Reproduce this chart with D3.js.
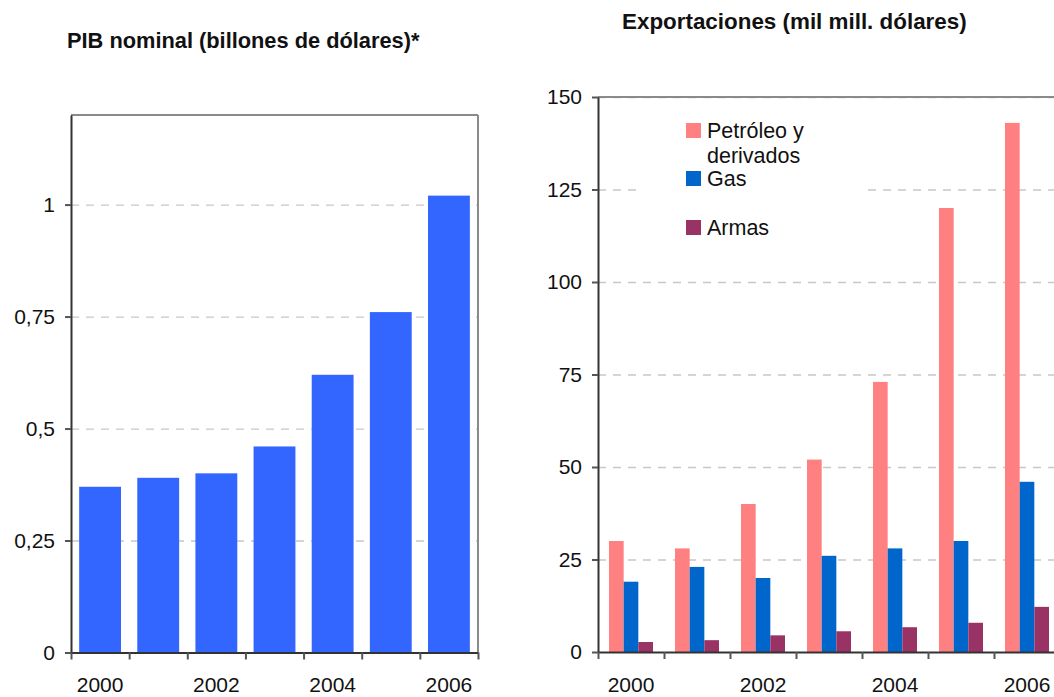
<!DOCTYPE html>
<html>
<head>
<meta charset="utf-8">
<script src="https://cdn.jsdelivr.net/npm/d3@7"></script>
<style>
  html, body { margin: 0; padding: 0; background: #fff; }
  svg { display: block; font-family: "Liberation Sans", Arial, sans-serif; }
</style>
</head>
<body>
<svg id="chart" width="1054" height="697"></svg>
<script>
// years on the x axis (labels shown for every other year)
var years = ["2000", "2001", "2002", "2003", "2004", "2005", "2006"];

// PIB nominal (billones de dolares)
var pib = [0.37, 0.39, 0.40, 0.46, 0.62, 0.76, 1.02];
var pibTicks = [0, 0.25, 0.5, 0.75, 1];

// Exportaciones (mil mill. dolares)
var seriesNames = ["Petróleo y derivados", "Gas", "Armas"];
var petroleo = [30, 28, 40, 52, 73, 120, 143];
var gas = [19, 23, 20, 26, 28, 30, 46];
var armas = [2.7, 3.2, 4.5, 5.6, 6.7, 7.9, 12.2];
var expTicks = [0, 25, 50, 75, 100, 125, 150];

var legendLines = [["Petróleo y", "derivados"], ["Gas"], ["Armas"]];
var seriesColors = ["#ff8080", "#0066cc", "#993366"];

var svg = d3.select("#chart");
var comma = function(d) { return String(d).replace(".", ","); };

// dashed grid behind the bars
function grid(g, y, ticks, left, right) {
	g.append("g")
		.attr("transform", "translate(" + left + ",0)")
		.call(d3.axisLeft(y).tickValues(ticks.filter(function(t) { return t > 0; })).tickSize(-(right - left)).tickFormat(""))
		.call(function(s) {
			s.select(".domain").remove();
			s.selectAll("line").attr("stroke", "#c8c8c8").attr("stroke-width", 1.3).attr("stroke-dasharray", "8,7");
		});
}

// gray top and right border of the plot area
function frame(g, left, right, top, bottom) {
	g.append("line").attr("x1", left).attr("x2", right).attr("y1", top).attr("y2", top)
		.attr("stroke", "#8a8a8a").attr("stroke-width", 2);
	g.append("line").attr("x1", right).attr("x2", right).attr("y1", top).attr("y2", bottom)
		.attr("stroke", "#8a8a8a").attr("stroke-width", 2);
}

function yAxis(g, y, ticks, left) {
	g.append("g")
		.attr("transform", "translate(" + left + ",0)")
		.call(d3.axisLeft(y).tickValues(ticks).tickSize(6).tickSizeOuter(0).tickPadding(10).tickFormat(comma))
		.call(function(s) {
			s.select(".domain").attr("stroke", "#333").attr("stroke-width", 2);
			s.selectAll(".tick line").attr("stroke", "#555").attr("stroke-width", 2);
			s.selectAll("text").attr("font-size", 21).attr("fill", "#111").attr("font-family", "Liberation Sans, Arial, sans-serif");
		});
}

function xAxis(g, x, bottom) {
	var edges = d3.scaleLinear().domain([0, years.length]).range(x.range());
	g.append("g")
		.attr("transform", "translate(0," + bottom + ")")
		.call(d3.axisBottom(edges).tickValues(d3.range(years.length + 1)).tickSize(7).tickSizeOuter(0).tickFormat(""))
		.call(function(s) {
			s.select(".domain").attr("stroke", "#333").attr("stroke-width", 2);
			s.selectAll(".tick line").attr("stroke", "#555").attr("stroke-width", 2);
		});
	g.append("g")
		.attr("transform", "translate(0," + bottom + ")")
		.call(d3.axisBottom(x).tickSize(0).tickPadding(25).tickFormat(function(d, i) { return i % 2 === 0 ? d : ""; }))
		.call(function(s) {
			s.select(".domain").remove();
			s.selectAll("text").attr("font-size", 21).attr("fill", "#111").attr("font-family", "Liberation Sans, Arial, sans-serif");
		});
}

// ---------- left panel: PIB ----------
var L = { left: 71, right: 478, top: 115, bottom: 652.5 };
var xL = d3.scaleBand().domain(years).range([L.left, L.right]).paddingInner(0.28).paddingOuter(0.14);
var yL = d3.scaleLinear().domain([0, 1.2]).range([L.bottom, L.top]);
var gL = svg.append("g");

grid(gL, yL, pibTicks, L.left, L.right);
frame(gL, L.left, L.right, L.top, L.bottom);

gL.append("g").selectAll("rect")
	.data(pib)
	.enter().append("rect")
	.attr("x", function(d, i) { return xL(years[i]); })
	.attr("y", function(d) { return yL(d); })
	.attr("width", xL.bandwidth())
	.attr("height", function(d) { return yL(0) - yL(d); })
	.attr("fill", "#3366ff");

yAxis(gL, yL, pibTicks, L.left);
xAxis(gL, xL, L.bottom);

gL.append("text")
	.attr("x", 67).attr("y", 48)
	.attr("font-size", 21.8).attr("font-weight", "bold").attr("fill", "#111")
	.text("PIB nominal (billones de dólares)*");

// ---------- right panel: Exportaciones ----------
var R = { left: 598, right: 1060, top: 97, bottom: 652 };
var xR = d3.scaleBand().domain(years).range([R.left, R.right]).paddingInner(1 / 3).paddingOuter(1 / 6);
var xS = d3.scaleBand().domain(seriesNames).range([0, xR.bandwidth()]);
var yR = d3.scaleLinear().domain([0, 150]).range([R.bottom, R.top]);
var gR = svg.append("g");

grid(gR, yR, expTicks, R.left, R.right);
frame(gR, R.left, R.right, R.top, R.bottom);

var expData = years.map(function(yr, i) {
	return { year: yr, values: [petroleo[i], gas[i], armas[i]] };
});

var groups = gR.append("g").selectAll("g")
	.data(expData)
	.enter().append("g")
	.attr("transform", function(d) { return "translate(" + xR(d.year) + ",0)"; });

groups.selectAll("rect")
	.data(function(d) { return d.values; })
	.enter().append("rect")
	.attr("x", function(d, i) { return xS(seriesNames[i]); })
	.attr("y", function(d) { return yR(d); })
	.attr("width", xS.bandwidth())
	.attr("height", function(d) { return yR(0) - yR(d); })
	.attr("fill", function(d, i) { return seriesColors[i]; });

// legend box (white, covers the grid)
var leg = gR.append("g");
leg.append("rect")
	.attr("x", 636).attr("y", 108).attr("width", 226).attr("height", 140)
	.attr("fill", "#fff");

var legTops = [123, 171, 220];
legendLines.forEach(function(lines, i) {
	var top = legTops[i];
	leg.append("rect")
		.attr("x", 686).attr("y", top).attr("width", 15).attr("height", 15)
		.attr("fill", seriesColors[i]);
	lines.forEach(function(t, j) {
		leg.append("text")
			.attr("x", 707).attr("y", top + 15 + j * 25)
			.attr("font-size", 21.5).attr("fill", "#111")
			.text(t);
	});
});

yAxis(gR, yR, expTicks, R.left);
xAxis(gR, xR, R.bottom);

gR.append("text")
	.attr("x", 622).attr("y", 29)
	.attr("font-size", 22.4).attr("font-weight", "bold").attr("fill", "#111")
	.text("Exportaciones (mil mill. dólares)");
</script>
</body>
</html>
